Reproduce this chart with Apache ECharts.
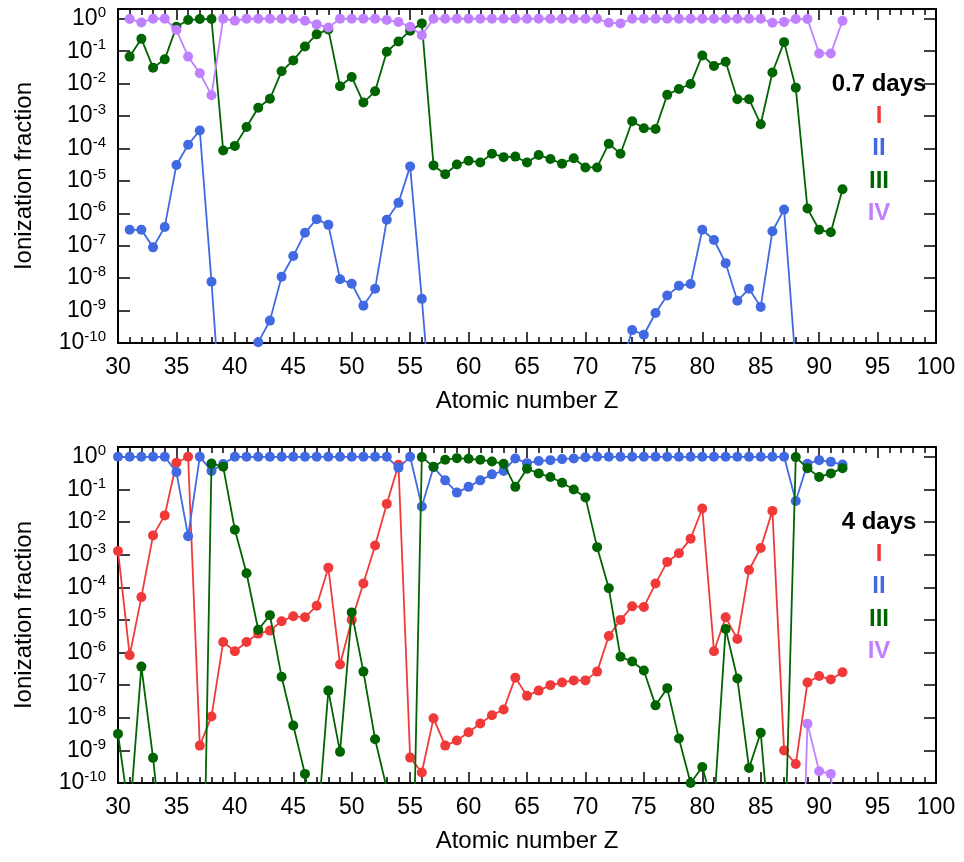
<!DOCTYPE html>
<html><head><meta charset="utf-8">
<script src="https://cdn.jsdelivr.net/npm/echarts@6/dist/echarts.min.js"></script>
<style>html,body{margin:0;padding:0;background:#fff}#c{width:964px;height:862px}</style>
</head><body><div id="c"></div>
<script>
// ---------- DATA ----------
const zTop = [31,32,33,34,35,36,37,38,39,40,41,42,43,44,45,46,47,48,49,50,51,52,53,54,55,56,57,58,59,60,61,62,63,64,65,66,67,68,69,70,71,72,73,74,75,76,77,78,79,80,81,82,83,84,85,86,87,88,89,90,91,92];
const topI = [];
const topII = [3.1e-7,3.1e-7,8.9e-8,3.8e-7,3.1e-5,1.3e-4,3.6e-4,7.8e-9,6e-14,null,null,1.05e-10,4.9e-10,1.1e-8,4.8e-8,2.5e-7,6.6e-7,4.4e-7,9.3e-9,6.7e-9,1.4e-9,4.7e-9,6.3e-7,2.1e-6,2.8e-5,2.3e-9,1e-13,null,null,null,null,null,null,null,null,null,null,null,null,null,null,null,1.5e-11,2.5e-10,1.8e-10,8.4e-10,2.9e-9,5.8e-9,6.6e-9,3.1e-7,1.5e-7,2.9e-8,2.0e-9,4.7e-9,1.3e-9,2.8e-7,1.3e-6,2e-11,null,null,null,null];
const topIII = [0.068,0.24,0.031,0.056,0.57,0.91,0.98,0.98,8.7e-5,1.2e-4,4.6e-4,1.8e-3,3.4e-3,0.024,0.052,0.14,0.33,0.47,8.3e-3,0.016,2.6e-3,5.8e-3,0.096,0.2,0.43,0.72,3.0e-5,1.6e-5,3.2e-5,4.2e-5,3.7e-5,6.9e-5,5.4e-5,5.6e-5,3.7e-5,6.3e-5,4.7e-5,3.4e-5,5.0e-5,2.6e-5,2.6e-5,1.4e-4,6.9e-5,6.9e-4,4.2e-4,4.0e-4,4.5e-3,6.8e-3,9.7e-3,0.074,0.035,0.047,3.3e-3,3.3e-3,5.6e-4,0.022,0.19,7.5e-3,1.4e-6,3.1e-7,2.6e-7,5.5e-6];
const topIV = [0.98,0.77,1.0,1.0,0.45,0.068,0.021,0.0044,1.0,0.87,1.0,1.0,1.0,1.0,1.0,0.87,0.67,0.54,1.0,1.0,1.0,1.0,0.91,0.79,0.57,0.31,1.0,1.0,1.0,1.0,1.0,1.0,1.0,1.0,1.0,1.0,1.0,1.0,1.0,1.0,1.0,0.75,0.72,1.0,1.0,1.0,1.0,1.0,1.0,1.0,1.0,1.0,1.0,1.0,1.0,0.75,0.8,0.98,0.98,0.085,0.085,0.87];

const zBot = [30,31,32,33,34,35,36,37,38,39,40,41,42,43,44,45,46,47,48,49,50,51,52,53,54,55,56,57,58,59,60,61,62,63,64,65,66,67,68,69,70,71,72,73,74,75,76,77,78,79,80,81,82,83,84,85,86,87,88,89,90,91,92];
const botI = [1.3e-3,8.2e-7,5.0e-5,3.9e-3,0.016,0.66,1.0,1.4e-9,1.1e-8,2.1e-6,1.1e-6,2.1e-6,3.8e-6,4.7e-6,9.1e-6,1.3e-5,1.2e-5,2.7e-5,4.0e-4,4.3e-7,1.0e-5,1.3e-4,1.9e-3,0.036,0.57,6.0e-10,2.1e-10,9.6e-9,1.4e-9,2.0e-9,3.6e-9,6.7e-9,1.2e-8,1.8e-8,1.7e-7,4.7e-8,6.8e-8,1.0e-7,1.2e-7,1.4e-7,1.4e-7,2.6e-7,3.2e-6,1.0e-5,2.6e-5,2.5e-5,1.3e-4,6.0e-4,1.1e-3,3.1e-3,0.026,1.1e-6,1.2e-5,2.6e-6,3.4e-4,1.6e-3,0.022,1.0e-9,3.8e-10,1.2e-7,1.9e-7,1.5e-7,2.5e-7];
const botII = [1.0,1.0,1.0,1.0,1.0,0.34,3.7e-3,1.0,0.37,0.6,1.0,1.0,1.0,1.0,1.0,1.0,1.0,1.0,1.0,1.0,1.0,1.0,1.0,1.0,0.46,1.0,0.03,0.48,0.19,0.08,0.12,0.19,0.29,0.37,0.89,0.64,0.74,0.79,0.85,0.89,0.97,1.0,1.0,1.0,1.0,1.0,1.0,1.0,1.0,1.0,1.0,1.0,1.0,1.0,1.0,1.0,1.0,1.0,0.044,0.61,0.79,0.70,0.58];
const botIII = [3.2e-9,9e-12,3.7e-7,5.9e-10,2.5e-13,null,null,1e-20,0.62,0.50,5.8e-3,2.7e-4,5.0e-6,1.4e-5,1.8e-7,5.8e-9,1.9e-10,2e-12,6.8e-8,9.0e-10,1.7e-5,2.6e-7,2.2e-9,6.8e-11,null,1e-17,0.98,0.50,0.81,0.91,0.87,0.81,0.72,0.61,0.12,0.43,0.31,0.24,0.16,0.10,0.057,1.7e-3,9.3e-5,7.4e-7,5.3e-7,2.8e-7,2.4e-8,8.1e-8,2.3e-9,1e-10,3.1e-10,1.6e-11,5.3e-6,1.6e-7,2.9e-10,3.5e-9,2.5e-13,1.1e-13,0.98,0.45,0.24,0.31,0.45];
const botIV = [null,null,null,null,null,null,null,null,null,null,null,null,null,null,null,null,null,null,null,null,null,null,null,null,null,null,null,null,null,null,null,null,null,null,null,null,null,null,null,null,null,null,null,null,null,null,null,null,null,null,null,null,null,null,null,null,null,null,1e-20,6.6e-9,2.3e-10,1.9e-10,1e-14];

const seriesNames = ['I','II','III','IV'];
const panelTitles = ['0.7 days','4 days'];
const xTitle = 'Atomic number Z';
const yTitle = 'Ionization fraction';

// ---------- STYLE ----------
const FF = '"Liberation Sans", Arial, Helvetica, sans-serif';
const COLORS = ['#f03a3a','#4169e1','#006400','#c080ff'];
const grids = [
  {left:118, top:9, width:818, height:334},
  {left:118, top:447, width:818, height:336}
];

function pairs(zs, vs){ return vs.map((v,i)=>[zs[i], v]); }

function supLabel(v){
  const e = Math.log10(v);
  const r = Math.round(e);
  if (Math.abs(e - r) > 1e-6) return '';
  return '{b|10}{s|' + r + '}';
}

function xAx(gi, pos, labels){
  return {
    type:'value', gridIndex:gi, position:pos, min:30, max:100, interval:5,
    axisLine:{show:true, onZero:false, lineStyle:{color:'#000', width:2}},
    axisTick:{show:true, inside:true, length:11, lineStyle:{color:'#000', width:1.5}},
    minorTick:{show:true, splitNumber:5, length:6, lineStyle:{color:'#000', width:1.5}},
    splitLine:{show:false}, minorSplitLine:{show:false},
    axisLabel:{show:labels, fontSize:23, color:'#000', margin:13, fontFamily:FF},
    name: labels ? xTitle : '', nameLocation:'middle', nameGap:46,
    nameTextStyle:{fontSize:24, color:'#000', fontFamily:FF}
  };
}
function yAx(gi, pos, labels){
  return {
    type:'log', logBase:10, gridIndex:gi, position:pos, min:1e-10, max:2, interval:1,
    axisLine:{show:true, onZero:false, lineStyle:{color:'#000', width:2}},
    axisTick:{show:true, inside:true, length:12, lineStyle:{color:'#000', width:1.5}},
    minorTick:{show:false}, splitLine:{show:false}, minorSplitLine:{show:false},
    axisLabel:{show:labels, margin:12, formatter:supLabel, color:'#000',
      rich:{ b:{fontSize:23, fontFamily:FF, color:'#000'},
             s:{fontSize:15, fontFamily:FF, color:'#000', verticalAlign:'top', padding:[0,0,12,0]} }},
    name: labels ? yTitle : '', nameLocation:'middle', nameGap:82,
    nameTextStyle:{fontSize:24, color:'#000', fontFamily:FF}
  };
}

const panels = [
  {z:zTop, data:[topI, topII, topIII, topIV]},
  {z:zBot, data:[botI, botII, botIII, botIV]}
];

const xAxis = [], yAxis = [], series = [], graphic = [];
panels.forEach((p, gi)=>{
  xAxis.push(xAx(gi,'bottom',true)); xAxis.push(xAx(gi,'top',false));
  yAxis.push(yAx(gi,'left',true)); yAxis.push(yAx(gi,'right',false));
  p.data.forEach((vals, si)=>{
    series.push({
      type:'line', name:seriesNames[si], xAxisIndex:gi*2, yAxisIndex:gi*2,
      data: pairs(p.z, vals), symbol:'circle', symbolSize:10, clip:true,
      connectNulls:false, animation:false, z:2+si,
      itemStyle:{color:COLORS[si]}, lineStyle:{color:COLORS[si], width:1.8}
    });
  });
  const g = grids[gi];
  const cx = 879, y0 = g.top + 75;
  graphic.push({type:'text', style:{text:panelTitles[gi], x:cx, y:y0, textAlign:'center', textVerticalAlign:'middle', align:'center', verticalAlign:'middle', font:'bold 24px ' + FF, fill:'#000'}});
  seriesNames.forEach((n, si)=>{
    graphic.push({type:'text', style:{text:n, x:cx, y:y0 + 32.3*(si+1), textAlign:'center', textVerticalAlign:'middle', align:'center', verticalAlign:'middle', font:'bold 24px ' + FF, fill:COLORS[si]}});
  });
});

const chart = echarts.init(document.getElementById('c'), null, {renderer:'canvas'});
chart.setOption({
  animation:false, backgroundColor:'#fff',
  grid: grids, xAxis, yAxis, series, graphic
});
</script></body></html>
